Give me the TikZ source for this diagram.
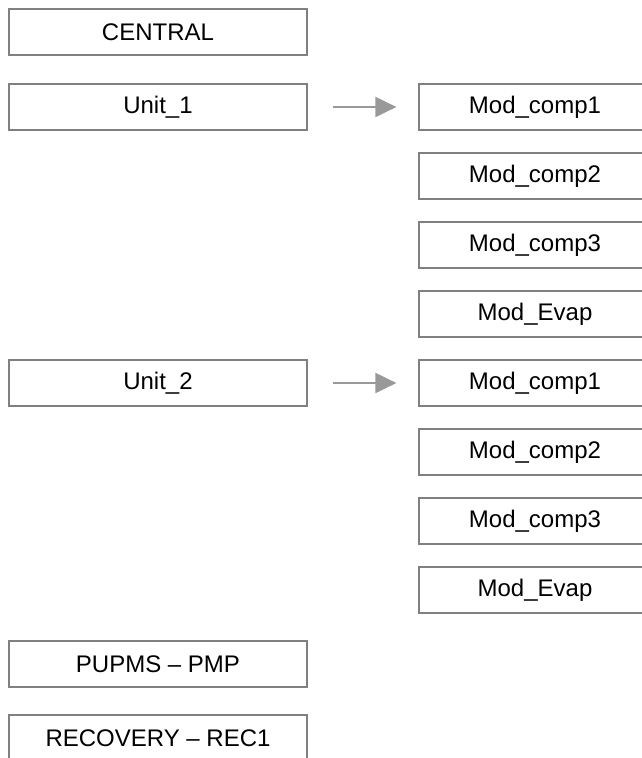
\documentclass[tikz,border=0pt]{standalone}
\usepackage{fontspec}
\setmainfont{Liberation Sans}
\usetikzlibrary{arrows.meta}
\begin{document}
\begin{tikzpicture}[x=1pt,y=-1pt,
  box/.style={draw=black!50, line width=1.2pt, fill=white, inner sep=0pt,
    minimum height=46pt, font=\fontsize{24}{28}\selectfont},
  lbox/.style={box, minimum width=298pt},
  rbox/.style={box, minimum width=232pt},
  link/.style={draw=black!40, line width=2pt,
    -{Triangle[length=21pt,width=20pt]}, shorten <=25pt, shorten >=22pt}]
\path[use as bounding box, fill=white] (0,0) rectangle (642,758);
\begin{scope}
\clip (0,0) rectangle (642,758);
\node[lbox] (central) at (158,32) {CENTRAL};
\node[lbox] (u1) at (158,107) {Unit\_1};
\node[rbox] (a1) at (535,107) {Mod\_comp1};
\node[rbox] (a2) at (535,176) {Mod\_comp2};
\node[rbox] (a3) at (535,245) {Mod\_comp3};
\node[rbox] (a4) at (535,314) {Mod\_Evap};
\node[lbox] (u2) at (158,383) {Unit\_2};
\node[rbox] (b1) at (535,383) {Mod\_comp1};
\node[rbox] (b2) at (535,452) {Mod\_comp2};
\node[rbox] (b3) at (535,521) {Mod\_comp3};
\node[rbox] (b4) at (535,590) {Mod\_Evap};
\node[lbox] (pmp) at (158,664) {PUPMS – PMP};
\node[lbox] (rec) at (158,738) {RECOVERY – REC1};
\draw[link] (u1.east) -- (a1.west);
\draw[link] (u2.east) -- (b1.west);
\end{scope}
\end{tikzpicture}
\end{document}
